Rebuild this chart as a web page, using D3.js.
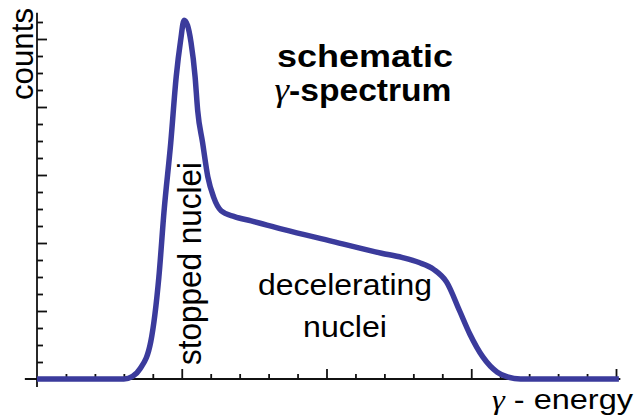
<!DOCTYPE html>
<html lang="en">
<head>
    <meta charset="UTF-8">
    <title>schematic gamma spectrum</title>
    <script src="https://cdn.jsdelivr.net/npm/d3@7/dist/d3.min.js"></script>
    <style>
        body { margin: 0; background: #fff; }
        text { font-family: "Liberation Sans", Arial, sans-serif; fill: #000; }
        .greek { font-family: "Liberation Serif", "DejaVu Serif", serif; font-style: italic; font-weight: normal; }
    </style>
</head>
<body>
    <svg width="635" height="416"></svg>
    <script>
        // spectrum (x in tick units, y in minor tick units)
        const energy = [0, 3.0, 3.3, 3.56, 3.93, 4.21, 4.39, 4.62, 4.81, 4.96, 5.08, 5.2, 5.32, 5.46, 5.55, 5.72,
            5.90, 6.10, 6.36, 6.82, 7.4, 8.5, 10.2, 11.9, 12.6, 13.2, 13.7, 14.15, 14.6, 14.95, 15.4, 15.9, 16.25, 16.7, 20.1];
        const counts = [0, 0, 0.15, 0.6, 2.2, 6.0, 9.9, 13.9, 17.8, 19.9, 21.1, 20.8, 19.8, 17.8, 15.8, 13.9,
            11.9, 10.7, 9.9, 9.55, 9.3, 8.8, 8.1, 7.4, 7.15, 6.85, 6.45, 5.7, 4.0, 2.65, 1.3, 0.4, 0.12, 0, 0];

        const xMinor = d3.range(1, 21).filter(d => d % 5 !== 0);
        const xMajor = [5, 10, 15, 20];
        const yMinor = d3.range(1, 22).filter(d => d % 4 !== 0);
        const yMajor = [4, 8, 12, 16, 20];

        const svg = d3.select("svg");

        const x = d3.scaleLinear().domain([0, 20]).range([37, 616]);
        const y = d3.scaleLinear().domain([0, 20]).range([379, 39]);

        // axis lines, crossing a little past the origin
        const axes = svg.append("g").attr("stroke", "#111").attr("stroke-width", 1.8);
        axes.append("line")
            .attr("x1", x(-0.42)).attr("x2", x(20.15))
            .attr("y1", y(0)).attr("y2", y(0));
        axes.append("line")
            .attr("x1", x(0)).attr("x2", x(0))
            .attr("y1", y(-0.47)).attr("y2", y(21.55));

        function ticks(axis, values, size, transform) {
            const g = svg.append("g")
                .attr("transform", transform)
                .call(axis.tickValues(values).tickSize(size).tickFormat(""));
            g.select(".domain").remove();
            g.selectAll(".tick line").attr("stroke", "#111").attr("stroke-width", 1.8);
            return g;
        }

        ticks(d3.axisTop(x), xMinor, 5, `translate(0,${y(0)})`);
        ticks(d3.axisTop(x), xMajor, 10, `translate(0,${y(0)})`);
        ticks(d3.axisRight(y), yMinor, 6, `translate(${x(0)},0)`);
        ticks(d3.axisRight(y), yMajor, 10, `translate(${x(0)},0)`);

        const line = d3.line()
            .x((d, i) => x(energy[i]))
            .y(d => y(d))
            .curve(d3.curveMonotoneX);

        svg.append("path")
            .datum(counts)
            .attr("fill", "none")
            .attr("stroke", "#3b3b9c")
            .attr("stroke-width", 5.5)
            .attr("stroke-linejoin", "round")
            .attr("d", line);

        // labels
        svg.append("text")
            .attr("transform", "translate(33,54) rotate(-90)")
            .attr("text-anchor", "middle")
            .attr("font-size", 32)
            .attr("textLength", 92)
            .attr("lengthAdjust", "spacingAndGlyphs")
            .text("counts");

        const xl = svg.append("text")
            .attr("x", 633).attr("y", 409)
            .attr("text-anchor", "end")
            .attr("font-size", 28)
            .attr("textLength", 141)
            .attr("lengthAdjust", "spacingAndGlyphs");
        xl.append("tspan").attr("class", "greek").text("γ");
        xl.append("tspan").text(" - energy");

        svg.append("text")
            .attr("x", 365).attr("y", 67)
            .attr("text-anchor", "middle")
            .attr("font-size", 31)
            .attr("font-weight", "bold")
            .attr("textLength", 176)
            .attr("lengthAdjust", "spacingAndGlyphs")
            .text("schematic");

        const t2 = svg.append("text")
            .attr("x", 363).attr("y", 101)
            .attr("text-anchor", "middle")
            .attr("font-size", 31)
            .attr("font-weight", "bold")
            .attr("textLength", 177)
            .attr("lengthAdjust", "spacingAndGlyphs");
        t2.append("tspan").attr("class", "greek").attr("font-size", 34).text("γ");
        t2.append("tspan").text("-spectrum");

        svg.append("text")
            .attr("transform", "translate(201,365) rotate(-90)")
            .attr("font-size", 33)
            .attr("textLength", 203)
            .attr("lengthAdjust", "spacingAndGlyphs")
            .text("stopped nuclei");

        svg.append("text")
            .attr("x", 345).attr("y", 295)
            .attr("text-anchor", "middle")
            .attr("font-size", 30)
            .attr("textLength", 174)
            .attr("lengthAdjust", "spacingAndGlyphs")
            .text("decelerating");

        svg.append("text")
            .attr("x", 345).attr("y", 337)
            .attr("text-anchor", "middle")
            .attr("font-size", 30)
            .attr("textLength", 84)
            .attr("lengthAdjust", "spacingAndGlyphs")
            .text("nuclei");
    </script>
</body>
</html>
